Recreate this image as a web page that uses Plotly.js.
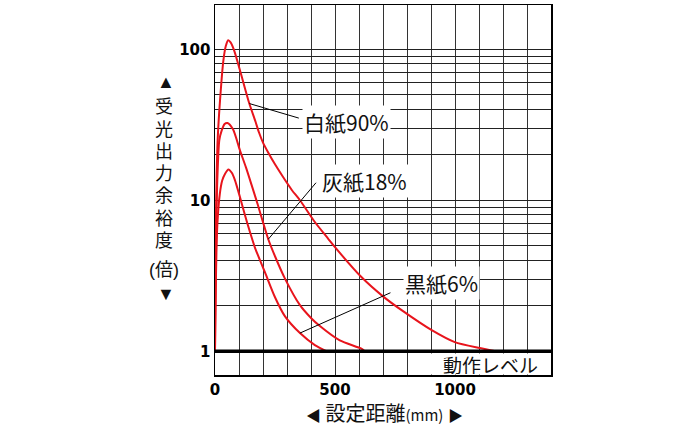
<!DOCTYPE html>
<html><head><meta charset="utf-8">
<script src="https://cdn.plot.ly/plotly-3.0.1.min.js"></script>
<style>html,body{margin:0;padding:0;background:#fff}#chart{width:700px;height:427px}</style>
</head><body><div id="chart"></div>
<script>
// 白紙90%
const whiteX = [0, 1, 2, 4, 7, 11, 21, 35, 45, 55, 65, 80, 104, 143, 169, 183, 200, 221, 250, 283, 320, 354, 416, 471, 499, 610, 700, 782, 903, 999, 1103, 1170];
const whiteY = [1, 2, 4, 8, 15, 25, 46, 84.5, 105, 114.7, 111, 98, 72.6, 43.7, 33.1, 28.2, 24.1, 20.8, 17.3, 14.3, 11.7, 10, 7.18, 5.58, 4.91, 3.1, 2.31, 1.85, 1.38, 1.15, 1.05, 1.0];
// 灰紙18%
const grayX = [0, 1, 3, 6, 9.6, 18, 28, 40, 52, 75, 104, 129, 154, 179, 200, 222, 250, 291, 354, 402, 437, 520, 610, 624];
const grayY = [1, 1.8, 3.5, 7.5, 13.6, 25, 29, 32, 32.5, 29.5, 21.4, 16.5, 12.4, 9.27, 7.15, 5.52, 4.26, 3.04, 2.02, 1.65, 1.47, 1.18, 1.04, 1.0];
// 黒紙6%
const blackX = [0, 1, 3, 6, 10, 20, 30, 42, 56, 70, 83, 104, 125, 146, 166, 208, 250, 291, 354, 416, 466];
const blackY = [1, 1.5, 2.5, 4.5, 7, 11, 13.5, 15, 16, 15.2, 13.6, 10.5, 7.96, 6.14, 4.88, 3.34, 2.28, 1.71, 1.32, 1.10, 1.0];

const seriesNames = ['白紙90%', '灰紙18%', '黒紙6%'];
const xGrid = [0,100,200,300,400,500,600,700,800,900,1000,1100,1200,1300,1400];
const xTickText = ['0','','','','','500','','','','','1000','','','',''];
const yGrid = [1,2,3,4,5,6,7,8,9,10,20,30,40,50,60,70,80,90,100];
const yTickText = ['1','','','','','','','','','10','','','','','','','','','100'];
const levelValue = 1;
const yTitleChars = ['受','光','出','力','余','裕','度'];
const yTitleUnit = '(倍)';
const xTitleText = '<span style="font-size:15px">◀</span> 設定距離<span style="font-size:15px">(mm)</span> <span style="font-size:15px">▶</span>';
const levelText = '動作レベル';

const RED = '#e8141c';
const JP = '"Noto Sans CJK JP", "DejaVu Sans", sans-serif';
const JPV = '"Liberation Sans", "Noto Sans CJK JP", sans-serif';

const series = [[whiteX, whiteY], [grayX, grayY], [blackX, blackY]];
const traces = series.map((s, i) => ({
  x: s[0], y: s[1], type: 'scatter', mode: 'lines', name: seriesNames[i],
  line: {color: RED, width: 2, shape: 'spline', smoothing: 0.7}, showlegend: false, hoverinfo: 'skip'
}));
// operating level line (動作レベル)
traces.push({
  x: [xGrid[0], xGrid[xGrid.length - 1]], y: [levelValue, levelValue], type: 'scatter', mode: 'lines',
  line: {color: '#000', width: 3.5}, showlegend: false, hoverinfo: 'skip', cliponaxis: false
});

// leader line tips reference points on each curve
const tips = [[whiteX[13], whiteY[13], 51, 15], [grayX[15], grayY[15], 49, -58], [blackX[18], blackY[18], 92, -41]];
const labelPos = [[346, 122], [364, 181], [441, 283]];
const toPX = px => (px - 215) / 336;
const toPY = py => (375 - py) / 370;

const annotations = [];
tips.forEach(t => annotations.push({
  x: t[0], y: Math.log10(t[1]), xref: 'x', yref: 'y', text: '', showarrow: true,
  arrowhead: 0, arrowwidth: 1, arrowcolor: '#000', ax: t[2], ay: t[3], standoff: 0, startstandoff: 0
}));
seriesNames.forEach((n, i) => annotations.push({
  x: toPX(labelPos[i][0]), y: toPY(labelPos[i][1]), xref: 'paper', yref: 'paper', text: n, showarrow: false,
  xanchor: 'center', yanchor: 'middle',
  font: {family: JP, size: 21, color: '#111'}, bgcolor: '#fff', borderpad: 1
}));
annotations.push({
  x: 1, y: 0, xref: 'paper', yref: 'paper', xanchor: 'right', yanchor: 'bottom', text: levelText,
  showarrow: false, font: {family: JP, size: 19, color: '#111'}, bgcolor: '#fff', borderpad: 0,
  width: 119, height: 20, align: 'center'
});
annotations.push({x: toPX(166), y: toPY(82), xref: 'paper', yref: 'paper', text: '▲', showarrow: false,
  xanchor: 'center', yanchor: 'middle', font: {family: JPV, size: 18, color: '#111'}});
yTitleChars.forEach((c, i) => annotations.push({
  x: toPX(164), y: toPY(107.3 + i * 22.3), xref: 'paper', yref: 'paper', text: c, showarrow: false,
  xanchor: 'center', yanchor: 'middle', font: {family: JPV, size: 18, color: '#111'}
}));
annotations.push({x: toPX(164), y: toPY(270), xref: 'paper', yref: 'paper', text: yTitleUnit, showarrow: false,
  xanchor: 'center', yanchor: 'middle', font: {family: JPV, size: 18, color: '#111'}});
annotations.push({x: toPX(166), y: toPY(294), xref: 'paper', yref: 'paper', text: '▼', showarrow: false,
  xanchor: 'center', yanchor: 'middle', font: {family: JPV, size: 18, color: '#111'}});
annotations.push({
  x: toPX(384), y: toPY(412), xref: 'paper', yref: 'paper', text: xTitleText,
  showarrow: false, xanchor: 'center', yanchor: 'middle', font: {family: JP, size: 20, color: '#111'}
});

const layout = {
  width: 700, height: 427,
  margin: {l: 215, r: 149, t: 5, b: 52, pad: 0},
  paper_bgcolor: '#fff', plot_bgcolor: '#fff',
  xaxis: {
    range: [0, 1400], tickmode: 'array', tickvals: xGrid, ticktext: xTickText,
    showgrid: true, gridcolor: '#333', gridwidth: 1, zeroline: false,
    showline: true, linecolor: '#000', linewidth: 1.5, mirror: true, ticks: '',
    tickfont: {family: '"DejaVu Sans", sans-serif', size: 15, weight: 'bold', color: '#000'}
  },
  yaxis: {
    type: 'log', range: [-0.157, 2.293], tickmode: 'array', tickvals: yGrid, ticktext: yTickText,
    showgrid: true, gridcolor: '#222', gridwidth: 1, zeroline: false,
    showline: true, linecolor: '#000', linewidth: 1.5, mirror: true, ticks: '',
    tickfont: {family: '"DejaVu Sans", sans-serif', size: 15, weight: 'bold', color: '#000'}
  },
  annotations: annotations,
  showlegend: false
};
Plotly.newPlot('chart', traces, layout, {staticPlot: true, displayModeBar: false});
</script></body></html>
